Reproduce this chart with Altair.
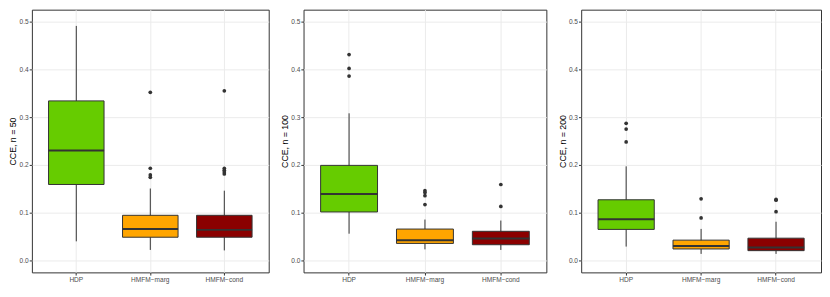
import altair as alt
import pandas as pd

categories = ["HDP", "HMFM−marg", "HMFM−cond"]
colors = ["#66CC00", "#FFA500", "#8B0000"]
titles = ["CCE, n = 50", "CCE, n = 100", "CCE, n = 200"]

# n = 50
n50_lower = [0.040, 0.022, 0.021]
n50_q1 = [0.159, 0.0486, 0.0486]
n50_median = [0.230, 0.0657, 0.064]
n50_q3 = [0.334, 0.0945, 0.0945]
n50_upper = [0.491, 0.1506, 0.146]
n50_out_hdp = []
n50_out_marg = [0.352, 0.193, 0.179, 0.174]
n50_out_cond = [0.355, 0.193, 0.189, 0.185, 0.181]

# n = 100
n100_lower = [0.056, 0.0232, 0.022]
n100_q1 = [0.1015, 0.0356, 0.0329]
n100_median = [0.139, 0.0425, 0.046]
n100_q3 = [0.199, 0.0657, 0.061]
n100_upper = [0.308, 0.0856, 0.0835]
n100_out_hdp = [0.431, 0.402, 0.386]
n100_out_marg = [0.146, 0.142, 0.1355, 0.117]
n100_out_cond = [0.159, 0.113]

# n = 200
n200_lower = [0.029, 0.0137, 0.0137]
n200_q1 = [0.065, 0.024, 0.0205]
n200_median = [0.086, 0.030, 0.027]
n200_q3 = [0.127, 0.0425, 0.0466]
n200_upper = [0.197, 0.066, 0.081]
n200_out_hdp = [0.287, 0.275, 0.248]
n200_out_marg = [0.129, 0.089]
n200_out_cond = [0.128, 0.126, 0.102]

y_values = [0.0, 0.05, 0.1, 0.15, 0.2, 0.25, 0.3, 0.35, 0.4, 0.45, 0.5]

panels = [
    (titles[0], n50_lower, n50_q1, n50_median, n50_q3, n50_upper,
     [n50_out_hdp, n50_out_marg, n50_out_cond], 238),
    (titles[1], n100_lower, n100_q1, n100_median, n100_q3, n100_upper,
     [n100_out_hdp, n100_out_marg, n100_out_cond], 244),
    (titles[2], n200_lower, n200_q1, n200_median, n200_q3, n200_upper,
     [n200_out_hdp, n200_out_marg, n200_out_cond], 241),
]

FONT = "Liberation Sans"
H = 264
minor_test = "round(datum.value*100) % 10 != 0"


def make_panel(title, lower, q1, med, q3, upper, outs, W):
    stats = pd.DataFrame({"category": categories, "lower": lower, "q1": q1,
                          "median": med, "q3": q3, "upper": upper})
    orows = []
    for c, vals in zip(categories, outs):
        for v in vals:
            orows.append({"category": c, "value": v})
    out_df = pd.DataFrame(orows, columns=["category", "value"])

    xscale = alt.Scale(domain=categories, paddingInner=0.25, paddingOuter=0.225)
    yscale = alt.Scale(domain=[-0.025, 0.525], nice=False, zero=False)
    xax = alt.Axis(title=None, bandPosition=0.5, labelAngle=0, labelFontSize=6.6,
                   labelColor="#4D4D4D", labelFont=FONT, tickColor="#333333",
                   tickSize=2.7, labelPadding=1.5, domain=False, grid=True,
                   gridColor="#EBEBEB", gridWidth=1)
    yax = alt.Axis(title=title, values=y_values, domain=False, grid=True,
                   gridColor="#EBEBEB",
                   gridWidth={"condition": {"test": minor_test, "value": 0.6}, "value": 1},
                   tickOpacity={"condition": {"test": minor_test, "value": 0}, "value": 1},
                   labelExpr="round(datum.value*100) % 10 != 0 ? '' : format(datum.value, '.1f')",
                   labelFontSize=6.6, labelColor="#4D4D4D", labelFont=FONT,
                   tickColor="#333333", tickSize=2.7, labelPadding=1,
                   titleFontSize=8.8, titleColor="#000000", titleFont=FONT,
                   titleFontWeight="normal", titlePadding=0,
                   minExtent=14, maxExtent=14)

    x = alt.X("category:N", sort=categories, scale=xscale, axis=xax)
    base = alt.Chart(stats)
    whisker = base.mark_rule(color="#333333", strokeWidth=1).encode(
        x=x, y=alt.Y("lower:Q", scale=yscale, axis=yax), y2="upper:Q")
    box = base.mark_bar(stroke="#333333", strokeWidth=1).encode(
        x=x, y=alt.Y("q1:Q"), y2="q3:Q",
        color=alt.Color("category:N", scale=alt.Scale(domain=categories, range=colors),
                        legend=None))
    bw = 0.75 * W / 3.2
    median = base.mark_tick(color="#333333", thickness=2, size=bw, opacity=1).encode(
        x=x, y=alt.Y("median:Q"))
    pts = alt.Chart(out_df).mark_circle(color="#333333", size=14, opacity=1).encode(
        x=x, y=alt.Y("value:Q"))
    return alt.layer(whisker, box, median, pts).properties(width=W, height=H)


chart = alt.hconcat(*[make_panel(*p) for p in panels], spacing=10).properties(
    padding={"left": 0, "top": 0, "right": 0, "bottom": 0}
).configure(background="white").configure_view(stroke="#333333", strokeWidth=1)

chart.save("out.html", embed_options={"renderer": "svg", "actions": False})
